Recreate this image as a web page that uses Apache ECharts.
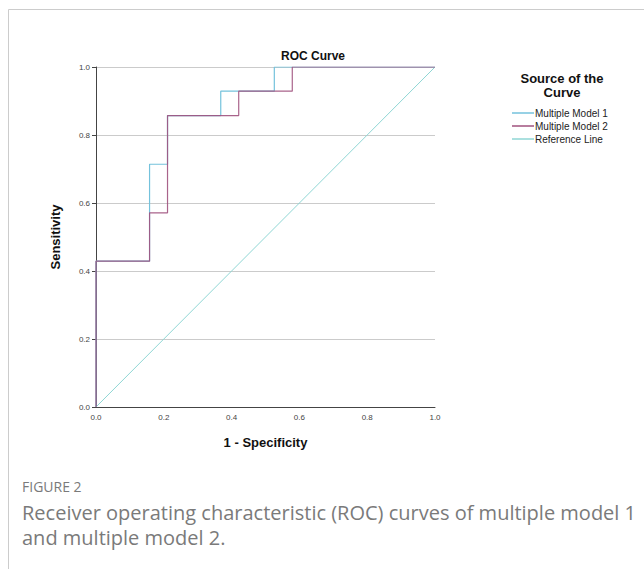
<!DOCTYPE html>
<html>
<head>
<meta charset="utf-8">
<script src="https://cdn.jsdelivr.net/npm/echarts@6/dist/echarts.min.js"></script>
<style>
  html, body { margin: 0; padding: 0; background: #fff; }
  #container { width: 644px; height: 569px; }
</style>
</head>
<body>
<div id="container"></div>
<script>
// ROC staircase points
var fpr1 = [0, 0, 0.158, 0.158, 0.211, 0.211, 0.368, 0.368, 0.526, 0.526, 1];
var tpr1 = [0, 0.429, 0.429, 0.714, 0.714, 0.857, 0.857, 0.929, 0.929, 1, 1];
var fpr2 = [0, 0, 0.158, 0.158, 0.211, 0.211, 0.421, 0.421, 0.579, 0.579, 1];
var tpr2 = [0, 0.429, 0.429, 0.571, 0.571, 0.857, 0.857, 0.929, 0.929, 1, 1];
var refX = [0, 1];
var refY = [0, 1];
var seriesNames = ['Multiple Model 1', 'Multiple Model 2', 'Reference Line'];
var seriesColors = ['#74c2dc', '#a0527e', '#8fd6d4'];

function pairs(xs, ys) {
    var out = [];
    for (var i = 0; i < xs.length; i++) {
        out.push([xs[i], ys[i]]);
    }
    return out;
}

var myChart = echarts.init(document.getElementById('container'), null, {renderer: 'svg'});
var baseFont = '"Liberation Sans", Arial, sans-serif';

var option = {
    animation: false,
    title: [
        {
            text: 'ROC Curve',
            left: 308,
            top: 45,
            textAlign: 'center',
            textStyle: {fontFamily: baseFont, fontSize: 12, fontWeight: 'bold', color: '#111'}
        },
        {
            text: 'Source of the\nCurve',
            left: 557,
            top: 66,
            textAlign: 'center',
            textStyle: {fontFamily: baseFont, fontSize: 13, fontWeight: 'bold', color: '#111', lineHeight: 14}
        }
    ],
    legend: {
        orient: 'vertical',
        left: 507,
        top: 103,
        itemWidth: 22,
        itemHeight: 1.5,
        itemGap: 3,
        icon: 'rect',
        data: seriesNames,
        textStyle: {fontFamily: baseFont, fontSize: 10, color: '#222', padding: [0, 0, 0, -4]}
    },
    grid: {
        left: 96,
        right: 209,
        top: 67,
        bottom: 162
    },
    xAxis: {
        type: 'value',
        min: 0,
        max: 1,
        interval: 0.2,
        name: '1 - Specificity',
        nameLocation: 'middle',
        nameGap: 29,
        nameTextStyle: {fontFamily: baseFont, fontSize: 13, fontWeight: 'bold', color: '#111'},
        axisLine: {show: true, lineStyle: {color: '#444', width: 1}},
        axisTick: {show: false},
        axisLabel: {
            fontFamily: baseFont, fontSize: 8, color: '#444', margin: 6,
            formatter: function (v) { return v.toFixed(1); }
        },
        splitLine: {show: false}
    },
    yAxis: {
        type: 'value',
        min: 0,
        max: 1,
        interval: 0.2,
        name: 'Sensitivity',
        nameLocation: 'middle',
        nameGap: 34,
        nameTextStyle: {fontFamily: baseFont, fontSize: 13, fontWeight: 'bold', color: '#111'},
        axisLine: {show: true, lineStyle: {color: '#444', width: 1}},
        axisTick: {show: true, length: 4, lineStyle: {color: '#444'}},
        axisLabel: {
            fontFamily: baseFont, fontSize: 8, color: '#444', margin: 6,
            formatter: function (v) { return v.toFixed(1); }
        },
        splitLine: {show: true, lineStyle: {color: '#cbcbcb', width: 1}}
    },
    series: [
        {
            name: seriesNames[2],
            type: 'line',
            data: pairs(refX, refY),
            showSymbol: false,
            itemStyle: {color: seriesColors[2]},
            lineStyle: {width: 1, color: seriesColors[2]}
        },
        {
            name: seriesNames[0],
            type: 'line',
            data: pairs(fpr1, tpr1),
            showSymbol: false,
            itemStyle: {color: seriesColors[0]},
            lineStyle: {width: 1.2, color: seriesColors[0]}
        },
        {
            name: seriesNames[1],
            type: 'line',
            data: pairs(fpr2, tpr2),
            showSymbol: false,
            itemStyle: {color: seriesColors[1]},
            lineStyle: {width: 1.2, color: seriesColors[1], opacity: 0.9}
        }
    ],
    graphic: [
        {
            type: 'polyline',
            shape: {points: [[8.5, 569], [8.5, 9.5], [644, 9.5]]},
            style: {stroke: '#cccccc', lineWidth: 1, fill: null}
        },
        {
            type: 'text',
            left: 22,
            top: 479,
            style: {text: 'FIGURE 2', font: '14px "Open Sans", sans-serif', fill: '#7a7a7a'}
        },
        {
            type: 'text',
            left: 22,
            top: 500,
            style: {
                text: 'Receiver operating characteristic (ROC) curves of multiple model 1\nand multiple model 2.',
                font: '20px "Open Sans", sans-serif',
                lineHeight: 25,
                fill: '#7a7a7a'
            }
        }
    ]
};
myChart.setOption(option);
</script>
</body>
</html>
